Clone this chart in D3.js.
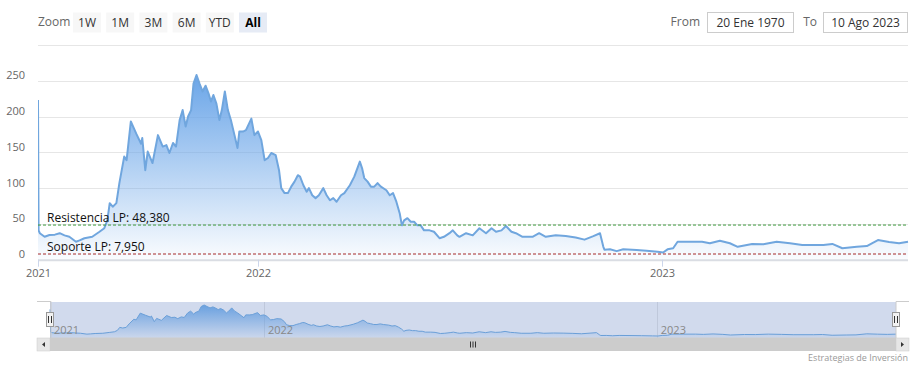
<!DOCTYPE html>
<html><head><meta charset="utf-8">
<script src="https://cdn.jsdelivr.net/npm/d3@7"></script>
<style>body{margin:0;background:#fff;} svg{display:block;font-family:"Open Sans","Noto Sans",sans-serif;}</style>
</head><body><svg id="c" width="917" height="366"></svg>
<script>
const dates = [
"2021-01-01","2021-01-02","2021-01-04","2021-01-12","2021-01-20","2021-01-29","2021-02-06","2021-02-14","2021-02-22","2021-03-05",
"2021-03-11","2021-03-19","2021-04-01","2021-04-13","2021-04-21","2021-04-26","2021-04-30","2021-05-05","2021-05-11","2021-05-16",
"2021-05-24","2021-05-28","2021-06-04","2021-06-13","2021-06-21","2021-06-23","2021-06-28","2021-07-02","2021-07-10","2021-07-19",
"2021-07-27","2021-08-02","2021-08-07","2021-08-13","2021-08-18","2021-08-24","2021-08-29","2021-09-03","2021-09-07","2021-09-12",
"2021-09-16","2021-09-21","2021-09-26","2021-10-01","2021-10-06","2021-10-11","2021-10-15","2021-10-19","2021-10-24","2021-10-29",
"2021-11-02","2021-11-07","2021-11-12","2021-11-17","2021-11-23","2021-11-28","2021-12-01","2021-12-07","2021-12-12","2021-12-21",
"2021-12-26","2022-01-01","2022-01-04","2022-01-07","2022-01-10","2022-01-13","2022-01-17","2022-01-20","2022-01-22","2022-01-25",
"2022-01-28","2022-01-31","2022-02-03","2022-02-06","2022-02-08","2022-02-11","2022-02-14","2022-02-16","2022-02-19","2022-02-22",
"2022-02-25","2022-03-01","2022-03-04","2022-03-07","2022-03-10","2022-03-13","2022-03-17","2022-03-20","2022-03-25","2022-03-29",
"2022-04-03","2022-04-05","2022-04-07","2022-04-10","2022-04-13","2022-04-16","2022-04-19","2022-04-22","2022-04-27","2022-04-30",
"2022-05-03","2022-05-06","2022-05-09","2022-05-11","2022-05-13","2022-05-16","2022-05-19","2022-05-22","2022-05-25","2022-05-28",
"2022-05-31","2022-06-05","2022-06-09","2022-06-14","2022-06-18","2022-06-23","2022-06-26","2022-06-30","2022-07-02","2022-07-08",
"2022-07-14","2022-07-20","2022-07-26","2022-07-31","2022-08-04","2022-08-09","2022-08-13","2022-08-18","2022-08-22","2022-08-28",
"2022-09-06","2022-09-12","2022-09-18","2022-09-27","2022-10-06","2022-10-15","2022-10-23","2022-10-31","2022-11-06","2022-11-09",
"2022-11-10","2022-11-15","2022-11-21","2022-11-27","2022-12-09","2022-12-18","2022-12-28","2023-01-02","2023-01-06","2023-01-11",
"2023-01-15","2023-01-26","2023-02-06","2023-02-13","2023-02-22","2023-03-03","2023-03-10","2023-03-23","2023-04-02","2023-04-14",
"2023-04-26","2023-05-07","2023-05-26","2023-06-03","2023-06-12","2023-06-25","2023-07-04","2023-07-14","2023-07-24","2023-08-02",
"2023-08-10"];
const values = [
223,41,37,32,34.5,35,37,34,32,25,
27,30,32,39,44,55,79,74,79,107,
144,139,193,176,162,170,125,151,135,174,
158,160,149,163,158,195,209,186,200,209,
246,258,246,235,243,232,221,230,218,195,
209,235,209,195,174,156,179,179,181,197,
174,179,167,139,142,149,146,125,100,93,
93,102,109,118,116,104,95,100,90,86,
90,100,90,83,86,81,90,93,104,116,
137,128,114,109,102,102,107,102,97,90,
93,81,65,48,55,58,53,53,48,48,
41,41,39,30,32,37,41,34,32,37,
34,44,37,44,39,41,47,39,37,32,
32,37,32,34,33,31,28,33,37,18,
14,14.5,12,14.5,13.5,12.5,11,10,14.5,16,
25,25,25,23,26.5,23,18,22,21.5,25,
23,20.5,20.5,22,16,18,19,27.5,24.7,23,
25];
const axisAnchors = ["2021-01-01","2022-01-01","2023-01-01","2023-08-10"];
const xTickDates = ["2021-01-01","2022-01-01","2023-01-01"];
const xTickLabels = ["2021","2022","2023"];
const yTicks = [0,50,100,150,200,250,300];
const yTickLabels = ["0","50","100","150","200","250",""];
const plotLineValues = [48.38, 7.95];
const plotLineLabels = ["Resistencia LP: 48,380","Soporte LP: 7,950"];
const plotLineColors = ["#3f9b3f","#a52a2a"];
const rangeButtons = ["1W","1M","3M","6M","YTD","All"];
const selectedButton = "All";
const inputLabels = ["From","To"];
const inputValues = ["20 Ene 1970","10 Ago 2023"];
const creditText = "Estrategias de Inversión";

const parse = d3.timeParse("%Y-%m-%d");
const data = dates.map((d,i)=>({date:parse(d), value:values[i]}));
const svg = d3.select("#c");
const defs = svg.append("defs");

// main scales (ordinal-like piecewise time axis)
const pl = 38, pr = 908, pt = 44.9, pb = 259.7;
const x = d3.scaleTime().domain(axisAnchors.map(parse)).range([38,258,662,908]);
const y = d3.scaleLinear().domain([0,300]).range([pb,pt]);

// gridlines
svg.append("g").selectAll("line").data(yTicks).join("line")
  .attr("x1",pl).attr("x2",pr).attr("y1",d=>Math.round(y(d))+0.5).attr("y2",d=>Math.round(y(d))+0.5)
  .attr("stroke","#e6e6e6").attr("stroke-width",1);
svg.append("g").selectAll("text").data(yTicks).join("text")
  .attr("x",25).attr("y",d=>y(d)-1.5).attr("text-anchor","end")
  .attr("font-size",11).attr("fill","#666").text((d,i)=>yTickLabels[i]);

// gradient
const g1 = defs.append("linearGradient").attr("id","ag").attr("gradientUnits","userSpaceOnUse")
  .attr("x1",0).attr("x2",0).attr("y1",y(d3.max(values))).attr("y2",y(0));
g1.append("stop").attr("offset",0).attr("stop-color","#6aa5e8").attr("stop-opacity",1);
g1.append("stop").attr("offset",1).attr("stop-color","#6aa5e8").attr("stop-opacity",0.03);
defs.append("clipPath").attr("id","pc").append("rect").attr("x",pl).attr("y",pt-20).attr("width",pr-pl+1).attr("height",pb-pt+20);

const area = d3.area().x(d=>x(d.date)).y0(y(0)).y1(d=>y(d.value));
const line = d3.line().x(d=>x(d.date)).y(d=>y(d.value));
const gp = svg.append("g").attr("clip-path","url(#pc)");
gp.append("path").datum(data).attr("d",area).attr("fill","url(#ag)");
gp.append("path").datum(data).attr("d",line).attr("fill","none").attr("stroke","#70a6de").attr("stroke-width",2).attr("stroke-linejoin","round");

// plot lines
plotLineValues.forEach((v,i)=>{
  svg.append("line").attr("x1",pl).attr("x2",pr).attr("y1",y(v)).attr("y2",y(v))
    .attr("stroke",plotLineColors[i]).attr("stroke-width",1).attr("stroke-dasharray","3,2");
  svg.append("text").attr("x",47).attr("y",y(v)-3).attr("font-size",12).attr("fill","#111").text(plotLineLabels[i]);
});

// x axis
svg.append("line").attr("x1",pl).attr("x2",pr).attr("y1",pb+0.5).attr("y2",pb+0.5).attr("stroke","#dadde3").attr("stroke-width",2);
const xt = svg.append("g");
xTickDates.forEach((d,i)=>{
  const px = Math.round(x(parse(d)))+0.5;
  xt.append("line").attr("x1",px).attr("x2",px).attr("y1",pb).attr("y2",pb+7).attr("stroke","#ccd6eb");
  xt.append("text").attr("x",px).attr("y",277).attr("text-anchor","middle").attr("font-size",11).attr("fill","#666").text(xTickLabels[i]);
});

// range selector
svg.append("text").attr("x",38).attr("y",26).attr("font-size",12).attr("fill","#666").text("Zoom");
rangeButtons.forEach((b,i)=>{
  const bx = 73 + i*33.2;
  const sel = b===selectedButton;
  svg.append("rect").attr("x",bx).attr("y",12.5).attr("width",28).attr("height",20).attr("fill",sel?"#e6ebf5":"#f7f7f7");
  svg.append("text").attr("x",bx+14).attr("y",26.5).attr("text-anchor","middle").attr("font-size",12)
    .attr("font-weight",sel?"bold":"normal").attr("fill",sel?"#000":"#333").text(b);
});
const inputs = [{lx:700,bx:707.5,bw:86},{lx:817,bx:823.5,bw:84}];
inputs.forEach((p,i)=>{
  svg.append("text").attr("x",p.lx).attr("y",26).attr("text-anchor","end").attr("font-size",12).attr("fill","#666").text(inputLabels[i]);
  svg.append("rect").attr("x",p.bx).attr("y",12.5).attr("width",p.bw).attr("height",20).attr("fill","#fff").attr("stroke","#cccccc");
  svg.append("text").attr("x",p.bx+p.bw/2).attr("y",26.5).attr("text-anchor","middle").attr("font-size",12).attr("fill","#333").text(inputValues[i]);
});

// navigator
const nl = 50, nr = 896, nt = 302, nb = 338;
const xn = d3.scaleTime().domain(axisAnchors.map(parse)).range([nl, nl+(258-38)*(nr-nl)/(pr-pl), nl+(662-38)*(nr-nl)/(pr-pl), nr]);
const yn = d3.scaleLinear().domain([d3.min(values), d3.max(values)]).range([336,305]);
xTickDates.forEach((d,i)=>{
  const px = Math.round(xn(parse(d)))+0.5;
  svg.append("line").attr("x1",px).attr("x2",px).attr("y1",nt).attr("y2",nb).attr("stroke","#e6e6e6");
});
svg.append("rect").attr("x",nl).attr("y",nt).attr("width",nr-nl).attr("height",nb-nt).attr("fill","rgba(102,133,194,0.3)");
const g2 = defs.append("linearGradient").attr("id","ng").attr("gradientUnits","userSpaceOnUse")
  .attr("x1",0).attr("x2",0).attr("y1",305).attr("y2",nb);
g2.append("stop").attr("offset",0).attr("stop-color","#5e9ade").attr("stop-opacity",0.9);
g2.append("stop").attr("offset",1).attr("stop-color","#5e9ade").attr("stop-opacity",0.05);
const narea = d3.area().x(d=>xn(d.date)).y0(nb).y1(d=>yn(d.value));
const nline = d3.line().x(d=>xn(d.date)).y(d=>yn(d.value));
svg.append("path").datum(data).attr("d",narea).attr("fill","url(#ng)");
svg.append("path").datum(data).attr("d",nline).attr("fill","none").attr("stroke","#6a9fd8").attr("stroke-width",1);
xTickDates.forEach((d,i)=>{
  const px = xn(parse(d));
  svg.append("text").attr("x",px+4).attr("y",334).attr("font-size",11).attr("fill","#888").text(xTickLabels[i]);
});
// outline
svg.append("path").attr("d",`M37,${nt-0.5}L${nl+1},${nt-0.5}L${nl+1},${nb}L${nr},${nb}L${nr},${nt-0.5}L909,${nt-0.5}`)
  .attr("fill","none").attr("stroke","#cccccc");
// handles
[nl, nr].forEach(hx=>{
  svg.append("rect").attr("x",hx-3.5).attr("y",312.5).attr("width",7).attr("height",14).attr("fill","#f2f2f2").attr("stroke","#999");
  svg.append("line").attr("x1",hx-1.5).attr("x2",hx-1.5).attr("y1",316).attr("y2",323).attr("stroke","#333");
  svg.append("line").attr("x1",hx+1.5).attr("x2",hx+1.5).attr("y1",316).attr("y2",323).attr("stroke","#333");
});
// scrollbar
svg.append("rect").attr("x",37).attr("y",338).attr("width",872).attr("height",13).attr("fill","#f2f2f2");
svg.append("rect").attr("x",50).attr("y",338).attr("width",846).attr("height",13).attr("fill","#cccccc");
[[37,1],[896,-1]].forEach(([bx,dir])=>{
  svg.append("rect").attr("x",bx).attr("y",338).attr("width",13).attr("height",13).attr("fill","#e6e6e6").attr("stroke","#cccccc").attr("stroke-width",0.5);
  const cx = bx+6.5;
  svg.append("path").attr("d", dir>0 ? `M${cx+1.5},342L${cx-1.5},344.5L${cx+1.5},347Z` : `M${cx-1.5},342L${cx+1.5},344.5L${cx-1.5},347Z`).attr("fill","#333");
});
[-2.5,0,2.5].forEach(o=>{
  svg.append("line").attr("x1",473+o).attr("x2",473+o).attr("y1",341.5).attr("y2",347.5).attr("stroke","#333");
});
// credit
svg.append("text").attr("x",908).attr("y",361).attr("text-anchor","end").attr("font-size",9).attr("fill","#999").text(creditText);
</script></body></html>
